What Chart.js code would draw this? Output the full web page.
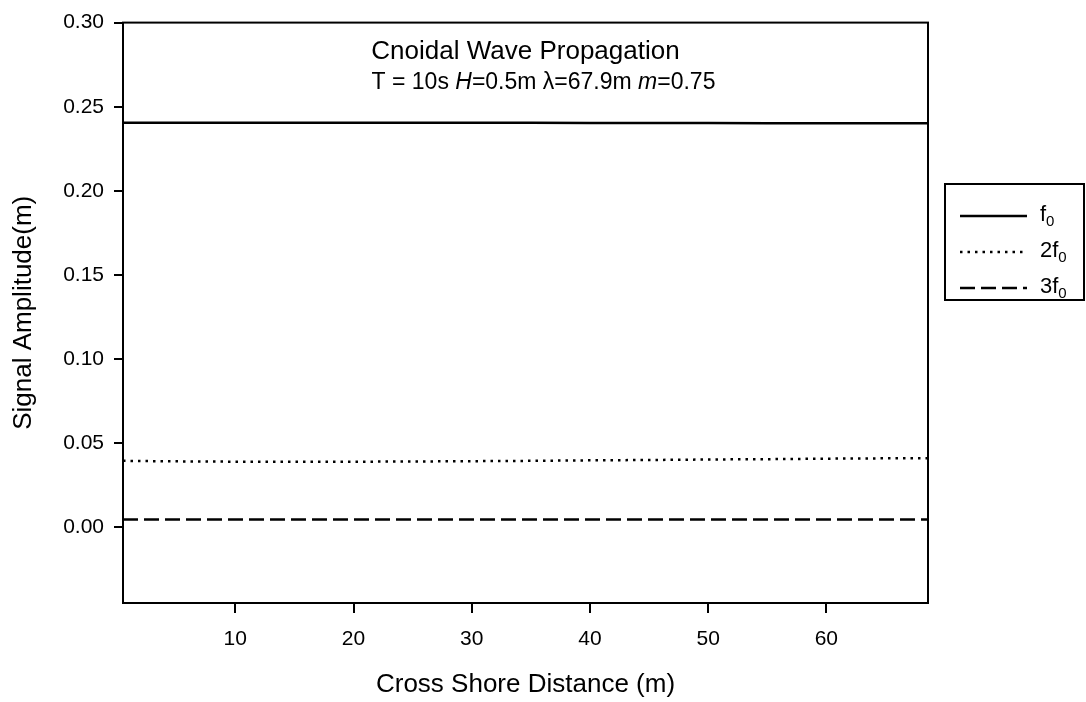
<!DOCTYPE html>
<html>
<head>
<meta charset="utf-8">
<script src="https://cdn.jsdelivr.net/npm/chart.js@4.4.1/dist/chart.umd.min.js"></script>
<style>
  html, body { margin: 0; padding: 0; background: #fff; }
  #wrap { width: 1086px; height: 702px; }
</style>
</head>
<body>
<div id="wrap"><canvas id="chart" width="1086" height="702"></canvas></div>
<script>
// cross shore distance (m)
const distance = [0.5, 5, 10, 15, 20, 25, 30, 35, 40, 45, 50, 55, 60, 65, 68.6];
// signal amplitude (m) per harmonic
const ampF0 = [0.2405, 0.2405, 0.2405, 0.2405, 0.2405, 0.2405, 0.2404, 0.2404, 0.2403, 0.2403, 0.2403, 0.2402, 0.2402, 0.2402, 0.2402];
const amp2F0 = [0.0395, 0.0392, 0.039, 0.039, 0.039, 0.0391, 0.0393, 0.0395, 0.0398, 0.04, 0.0403, 0.0405, 0.0408, 0.041, 0.041];
const amp3F0 = [0.0046, 0.0046, 0.0046, 0.0046, 0.0047, 0.0047, 0.0047, 0.0047, 0.0047, 0.0047, 0.0046, 0.0046, 0.0046, 0.0046, 0.0046];

const seriesLabels = ['f0', '2f0', '3f0'];
const xTickValues = [10, 20, 30, 40, 50, 60];
const yTickValues = [0, 0.05, 0.10, 0.15, 0.20, 0.25, 0.30];

const titleText = 'Cnoidal Wave Propagation';
// subtitle parts: [text, italic]
const subtitleParts = [['T = 10s ', false], ['H', true], ['=0.5m \u03bb=67.9m ', false], ['m', true], ['=0.75', false]];

const FONT = '"Liberation Sans", Arial, Helvetica, sans-serif';

const toPoints = (ys) => distance.map((x, i) => ({ x: x, y: ys[i] }));

// frame round the plot, title inside it, and the boxed legend on the right
const framePlugin = {
    id: 'frameAndTitle',
    afterDraw: (chart) => {
        const { ctx, chartArea } = chart;
        const { left, right, top, bottom } = chartArea;
        ctx.save();
        ctx.strokeStyle = '#000';
        ctx.lineWidth = 2;
        ctx.strokeRect(left, top, right - left, bottom - top);

        const cx = (left + right) / 2;
        ctx.fillStyle = '#000';
        ctx.textBaseline = 'alphabetic';
        ctx.textAlign = 'center';
        ctx.font = '26px ' + FONT;
        ctx.fillText(titleText, cx, top + 36);

        // subtitle with italic pieces
        const fontFor = (it) => (it ? 'italic ' : '') + '23px ' + FONT;
        let total = 0;
        subtitleParts.forEach(([t, it]) => { ctx.font = fontFor(it); total += ctx.measureText(t).width; });
        let x = cx + 18 - total / 2;
        ctx.textAlign = 'left';
        subtitleParts.forEach(([t, it]) => {
            ctx.font = fontFor(it);
            ctx.fillText(t, x, top + 66);
            x += ctx.measureText(t).width;
        });

        // legend
        const lx = right + 17, ly = 184, lw = 139, lh = 116;
        ctx.lineWidth = 2;
        ctx.strokeRect(lx, ly, lw, lh);
        chart.data.datasets.forEach((ds, i) => {
            const y = ly + 32 + i * 36;
            ctx.beginPath();
            ctx.setLineDash(ds.borderDash || []);
            ctx.lineWidth = ds.borderWidth;
            ctx.strokeStyle = ds.borderColor;
            ctx.moveTo(lx + 15, y);
            ctx.lineTo(lx + 82, y);
            ctx.stroke();
            ctx.setLineDash([]);
            const label = ds.label;
            const base = label.slice(0, -1), sub = label.slice(-1);
            ctx.font = '22px ' + FONT;
            ctx.fillStyle = '#000';
            ctx.textAlign = 'left';
            ctx.fillText(base, lx + 95, y + 5);
            const w = ctx.measureText(base).width;
            ctx.font = '15px ' + FONT;
            ctx.fillText(sub, lx + 95 + w, y + 10);
        });
        ctx.restore();
    }
};

const ctx = document.getElementById('chart').getContext('2d');
const myChart = new Chart(ctx, {
    type: 'line',
    data: {
        datasets: [
            {
                label: seriesLabels[0],
                data: toPoints(ampF0),
                borderColor: '#000',
                borderWidth: 2.5,
                pointRadius: 0,
                tension: 0
            },
            {
                label: seriesLabels[1],
                data: toPoints(amp2F0),
                borderColor: '#000',
                borderWidth: 2.5,
                borderDash: [2.5, 5],
                pointRadius: 0,
                tension: 0
            },
            {
                label: seriesLabels[2],
                data: toPoints(amp3F0),
                borderColor: '#000',
                borderWidth: 2.5,
                borderDash: [15, 6],
                pointRadius: 0,
                tension: 0
            }
        ]
    },
    options: {
        responsive: false,
        animation: false,
        events: [],
        layout: { padding: { left: 0, right: 158, top: 21, bottom: 0 } },
        plugins: {
            legend: { display: false },
            tooltip: { enabled: false }
        },
        scales: {
            x: {
                type: 'linear',
                min: 0.5,
                max: 68.6,
                afterBuildTicks: (axis) => { axis.ticks = xTickValues.map(v => ({ value: v })); },
                afterFit: (axis) => { axis.height = 99; },
                grid: { drawOnChartArea: false, color: '#000', lineWidth: 2, tickLength: 10 },
                border: { color: '#000', width: 2 },
                ticks: { color: '#000', padding: 14, maxRotation: 0, font: { family: FONT, size: 21 } },
                title: {
                    display: true,
                    text: 'Cross Shore Distance (m)',
                    color: '#000',
                    font: { family: FONT, size: 26 },
                    padding: { top: 0, bottom: 2 }
                }
            },
            y: {
                min: -0.045,
                max: 0.30,
                afterBuildTicks: (axis) => { axis.ticks = yTickValues.map(v => ({ value: v })); },
                afterFit: (axis) => { axis.width = 123; },
                grid: { drawOnChartArea: false, color: '#000', lineWidth: 2, tickLength: 9 },
                border: { color: '#000', width: 2 },
                ticks: {
                    color: '#000',
                    padding: 10,
                    font: { family: FONT, size: 21 },
                    callback: (v) => v.toFixed(2)
                },
                title: {
                    display: true,
                    text: 'Signal Amplitude(m)',
                    color: '#000',
                    font: { family: FONT, size: 26 },
                    padding: { top: 8, bottom: 0 }
                }
            }
        }
    },
    plugins: [framePlugin]
});
</script>
</body>
</html>
